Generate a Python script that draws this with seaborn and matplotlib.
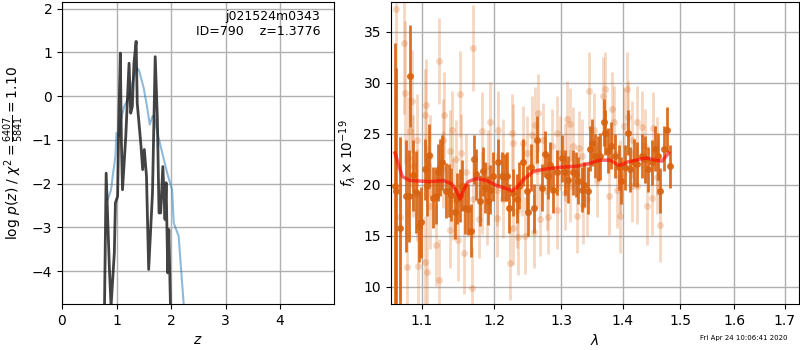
import numpy as np
import pandas as pd
import seaborn as sns
import matplotlib
matplotlib.use("Agg")
import matplotlib.pyplot as plt
from matplotlib.ticker import FixedLocator, FixedFormatter, NullLocator

# ---- p(z) panel ----
z_prior = [0.84, 0.90, 0.93, 0.98, 1.00, 1.05, 1.08, 1.14, 1.23, 1.29, 1.37, 1.41,
           1.50, 1.56, 1.61, 1.66, 1.69, 1.75, 1.84, 1.93, 2.02, 2.05, 2.14, 2.23, 2.30]
logp_prior = [-2.36, -2.14, -1.83, -1.38, -0.84, -0.92, -0.54, -0.24, -0.01, 0.30, 0.64, 0.60,
              0.18, -0.24, -0.65, -0.46, -0.45, -0.84, -1.30, -1.76, -2.14, -2.90, -3.20, -4.72, -5.60]

z_fit = [0.78, 0.81, 0.87, 0.90, 0.96, 0.98, 1.02, 1.04, 1.07, 1.09, 1.11, 1.17, 1.23, 1.26,
         1.29, 1.32, 1.36, 1.38, 1.45, 1.48, 1.51, 1.55, 1.59, 1.66, 1.71, 1.75, 1.78, 1.81,
         1.85, 1.89, 1.91, 1.94, 1.96, 1.99]
logp_fit = [-4.80, -1.76, -3.96, -4.80, -3.58, -2.44, -2.29, -0.69, 0.98, -1.07, -2.14, -0.92,
            0.75, -0.39, -0.24, 0.75, 1.25, -0.16, -1.15, -1.68, -1.22, -1.83, -3.96, -2.21,
            0.90, -0.54, -2.67, -2.67, -1.61, -2.82, -1.98, -4.04, -3.05, -4.80]

# ---- spectrum panel ----
wave_main = [1.0649, 1.0670, 1.0713, 1.0798, 1.0829, 1.0849, 1.0884, 1.0927, 1.0959, 1.0995,
             1.1040, 1.1074, 1.1097, 1.1150, 1.1187, 1.1217, 1.1240, 1.1271, 1.1329, 1.1366,
             1.1398, 1.1445, 1.1476, 1.1513, 1.1545, 1.1591, 1.1629, 1.1675, 1.1709, 1.1745,
             1.1793, 1.1840, 1.1864, 1.1911, 1.1935, 1.1987, 1.2059, 1.2109, 1.2157, 1.2191,
             1.2220, 1.2270, 1.2329, 1.2368, 1.2428, 1.2488, 1.2503, 1.2539, 1.2592, 1.2637,
             1.2705, 1.2755, 1.2805, 1.2831, 1.2883, 1.2935, 1.3013, 1.3065, 1.3117, 1.3186,
             1.3239, 1.3275, 1.3330, 1.3366, 1.3420, 1.3463, 1.3500, 1.3544, 1.3588, 1.3626,
             1.3680, 1.3708, 1.3752, 1.3807, 1.3873, 1.3929, 1.3974, 1.4030, 1.4080, 1.4126,
             1.4182, 1.4240, 1.4326, 1.4383, 1.4429, 1.4499, 1.4545, 1.4604, 1.4644, 1.4703,
             1.4763, 1.4809]
flux_main = [19.9, 19.4, 15.7, 18.9, 18.9, 30.6, 20.9, 19.3, 15.9, 16.3,
             21.5, 19.9, 22.9, 18.7, 18.9, 21.2, 21.7, 22.2, 19.4, 19.4,
             19.0, 17.3, 18.6, 18.9, 19.9, 17.7, 17.6, 15.5, 22.5, 21.0,
             18.4, 21.3, 19.7, 18.4, 19.5, 20.8, 22.2, 20.8, 20.7, 20.8,
             17.7, 19.2, 18.6, 19.9, 22.2, 19.4, 17.3, 21.7, 17.7, 24.4,
             19.7, 23.0, 20.8, 21.9, 19.5, 21.2, 22.6, 21.2, 20.5, 21.2,
             21.0, 20.4, 19.5, 20.0, 19.4, 23.5, 24.1, 22.8, 22.6, 22.8,
             26.1, 25.1, 23.3, 23.8, 22.8, 21.7, 20.4, 21.7, 25.1, 21.5,
             22.2, 22.0, 22.8, 22.5, 21.5, 22.2, 23.5, 22.8, 19.4, 23.5,
             25.4, 21.8]
err_main = [14.0, 12.0, 9.0, 5.5, 4.5, 5.0, 3.5, 4.0, 3.5, 3.5,
            3.0, 3.0, 3.0, 3.0, 2.8, 2.8, 2.8, 2.7, 2.7, 2.6,
            2.6, 2.6, 2.5, 2.6, 2.5, 2.5, 2.5, 2.6, 2.4, 2.5,
            2.5, 2.4, 2.5, 2.4, 2.4, 2.4, 2.3, 2.4, 2.3, 2.4,
            2.4, 2.3, 2.4, 2.3, 2.3, 2.4, 2.3, 2.3, 2.4, 2.3,
            2.3, 2.3, 2.2, 2.3, 2.3, 2.2, 2.3, 2.2, 2.3, 2.2,
            2.2, 2.3, 2.2, 2.2, 2.3, 2.2, 2.3, 2.2, 2.2, 2.3,
            2.3, 2.2, 2.2, 2.3, 2.2, 2.2, 2.3, 2.2, 2.2, 2.2,
            2.3, 2.2, 2.2, 2.3, 2.2, 2.2, 2.2, 2.3, 2.2, 2.2,
            2.2, 2.1]

wave_other = [1.0667, 1.0717, 1.0769, 1.0782, 1.0804, 1.0825, 1.0847, 1.0869, 1.0888, 1.0933,
              1.0933, 1.0955, 1.1044, 1.1044, 1.1057, 1.1066, 1.1066, 1.1110, 1.1110, 1.1187,
              1.1235, 1.1235, 1.1290, 1.1290, 1.1303, 1.1380, 1.1380, 1.1403, 1.1425, 1.1467,
              1.1494, 1.1518, 1.1537, 1.1578, 1.1606, 1.1681, 1.1703, 1.1703, 1.1777, 1.1825,
              1.1825, 1.1893, 1.1916, 1.1940, 1.2036, 1.2036, 1.2059, 1.2133, 1.2133, 1.2230,
              1.2255, 1.2279, 1.2279, 1.2329, 1.2343, 1.2402, 1.2428, 1.2452, 1.2479, 1.2554,
              1.2588, 1.2603, 1.2627, 1.2652, 1.2678, 1.2730, 1.2780, 1.2805, 1.2857, 1.2935,
              1.2935, 1.2987, 1.3065, 1.3065, 1.3091, 1.3143, 1.3143, 1.3196, 1.3250, 1.3291,
              1.3330, 1.3355, 1.3410, 1.3452, 1.3517, 1.3572, 1.3670, 1.3697, 1.3763, 1.3818,
              1.3845, 1.3901, 1.3946, 1.3957, 1.4012, 1.4072, 1.4087, 1.4154, 1.4154, 1.4240,
              1.4240, 1.4326, 1.4383, 1.4412, 1.4499, 1.4516, 1.4587, 1.4587, 1.4644]
flux_other = [37.2, 16.8, 33.9, 29.0, 11.9, 22.6, 25.3, 28.2, 21.8, 24.4,
              19.0, 12.0, 12.4, 26.8, 27.8, 11.4, 19.9, 22.8, 17.9, 14.1,
              32.1, 10.7, 21.5, 24.4, 26.8, 15.6, 23.3, 25.4, 18.6, 22.5,
              14.6, 28.9, 23.1, 13.3, 21.2, 9.9, 33.4, 18.6, 16.6, 19.2,
              25.3, 17.9, 21.8, 26.1, 16.7, 19.5, 25.4, 22.8, 18.6, 12.3,
              25.1, 15.7, 24.1, 17.4, 14.9, 20.5, 24.1, 15.0, 23.1, 24.9,
              15.4, 25.8, 21.3, 27.0, 16.6, 24.4, 19.4, 16.8, 23.8, 17.5,
              25.1, 23.1, 22.2, 19.2, 26.4, 25.9, 19.9, 23.8, 16.9, 23.6,
              22.8, 18.0, 18.6, 29.2, 25.4, 20.4, 28.7, 29.4, 18.9, 27.4,
              26.1, 19.5, 16.9, 20.8, 25.7, 29.4, 26.6, 24.4, 19.9, 26.1,
              19.9, 25.6, 23.8, 17.9, 18.7, 25.5, 22.8, 20.7, 16.0]
err_other = [9.0, 8.0, 7.0, 7.0, 6.0, 6.0, 5.5, 5.0, 5.0, 4.5,
             4.5, 4.5, 4.5, 4.5, 4.5, 4.5, 4.0, 4.0, 4.2, 4.0,
             4.2, 4.0, 3.8, 4.0, 4.2, 3.8, 4.0, 3.8, 4.0, 3.8,
             4.0, 4.2, 3.8, 4.0, 3.8, 4.0, 4.2, 3.8, 3.8, 4.0,
             3.8, 3.8, 3.6, 4.0, 3.8, 3.6, 3.8, 3.6, 3.8, 3.6,
             3.8, 3.6, 3.8, 3.6, 3.8, 3.6, 3.6, 3.8, 3.6, 3.8,
             3.6, 3.8, 3.6, 3.8, 3.6, 3.6, 3.8, 3.6, 3.6, 3.8,
             3.6, 3.6, 3.8, 3.6, 3.8, 3.6, 3.6, 3.8, 3.6, 3.6,
             3.6, 3.8, 3.6, 3.8, 3.6, 3.6, 3.8, 3.6, 3.8, 3.6,
             3.6, 3.8, 3.6, 3.6, 3.8, 3.6, 3.6, 3.8, 3.6, 3.6,
             3.8, 3.6, 3.6, 3.8, 3.6, 3.6, 3.8, 3.6, 3.6]

wave_model = [1.0653, 1.0747, 1.0847, 1.1110, 1.1290, 1.1400, 1.1467, 1.1518, 1.1564, 1.1634,
              1.1750, 1.1893, 1.2036, 1.2182, 1.2255, 1.2329, 1.2428, 1.2577, 1.2730, 1.2987,
              1.3250, 1.3463, 1.3626, 1.3790, 1.3929, 1.4002, 1.4069, 1.4297, 1.4412, 1.4557,
              1.4673, 1.4791]
flux_model = [23.1, 20.8, 20.4, 20.3, 20.4, 20.1, 19.4, 18.6, 19.4, 20.3,
              20.6, 20.4, 19.9, 19.6, 19.4, 19.7, 20.5, 21.3, 21.5, 21.7,
              21.8, 22.1, 22.4, 22.4, 21.9, 22.0, 22.2, 22.5, 22.6, 22.4,
              22.3, 23.1]

orange = "#d8620f"

fig = plt.figure(figsize=(8, 3.5), dpi=100)
ax1 = fig.add_axes([0.0775, 0.1314, 0.34, 0.863])
ax2 = fig.add_axes([0.4884, 0.1314, 0.5108, 0.863])

pz = pd.DataFrame({"z": z_prior, "logp": logp_prior})
pf = pd.DataFrame({"z": z_fit, "logp": logp_fit})
sns.lineplot(data=pz, x="z", y="logp", ax=ax1, color="#1f77b4", alpha=0.5, lw=1.5, sort=False)
sns.lineplot(data=pf, x="z", y="logp", ax=ax1, color="#222222", alpha=0.85, lw=2, sort=False)

ax1.set_xlim(0, 4.99)
ax1.set_ylim(-4.75, 2.15)
ax1.set_xticks([0, 1, 2, 3, 4])
ax1.set_yticks([-4, -3, -2, -1, 0, 1, 2])
ax1.grid(color="#b0b0b0", lw=1)
ax1.set_axisbelow(True)
ax1.set_xlabel("$z$")
ax1.set_ylabel(r"log $p(z)$ / $\chi^2=\frac{6407}{5841}=1.10$")
ax1.text(0.95, 0.975, "j021524m0343\nID=790    z=1.3776", transform=ax1.transAxes,
         ha="right", va="top", fontsize=9)

# light spectrum (second grism)
ax2.errorbar(wave_other, flux_other, yerr=err_other, fmt="o", color=orange, alpha=0.25,
             ms=5, elinewidth=2, capsize=0, mew=0, zorder=2)
ax2.errorbar(wave_main, flux_main, yerr=err_main, fmt="o", color=orange, alpha=0.9,
             ms=5, elinewidth=2, capsize=0, mew=0, zorder=3)
pm = pd.DataFrame({"wave": wave_model, "flux": flux_model})
sns.lineplot(data=pm, x="wave", y="flux", ax=ax2, color="red", alpha=0.6, lw=2.5, zorder=4)

ax2.set_xscale("log")
ax2.set_xlim(1.06, 1.73)
ax2.set_ylim(8.3, 37.9)
ticks = [1.1, 1.2, 1.3, 1.4, 1.5, 1.6, 1.7]
ax2.xaxis.set_major_locator(FixedLocator(ticks))
ax2.xaxis.set_major_formatter(FixedFormatter([f"{t:.1f}" for t in ticks]))
ax2.xaxis.set_minor_locator(NullLocator())
ax2.set_yticks([10, 15, 20, 25, 30, 35])
ax2.grid(color="#b0b0b0", lw=1)
ax2.set_axisbelow(True)
ax2.set_xlabel(r"$\lambda$")
ax2.set_ylabel(r"$f_\lambda\times10^{-19}$")

fig.text(0.985, 0.025, "Fri Apr 24 10:06:41 2020", ha="right", va="bottom", fontsize=5)

fig.savefig("out.png", dpi=100)
